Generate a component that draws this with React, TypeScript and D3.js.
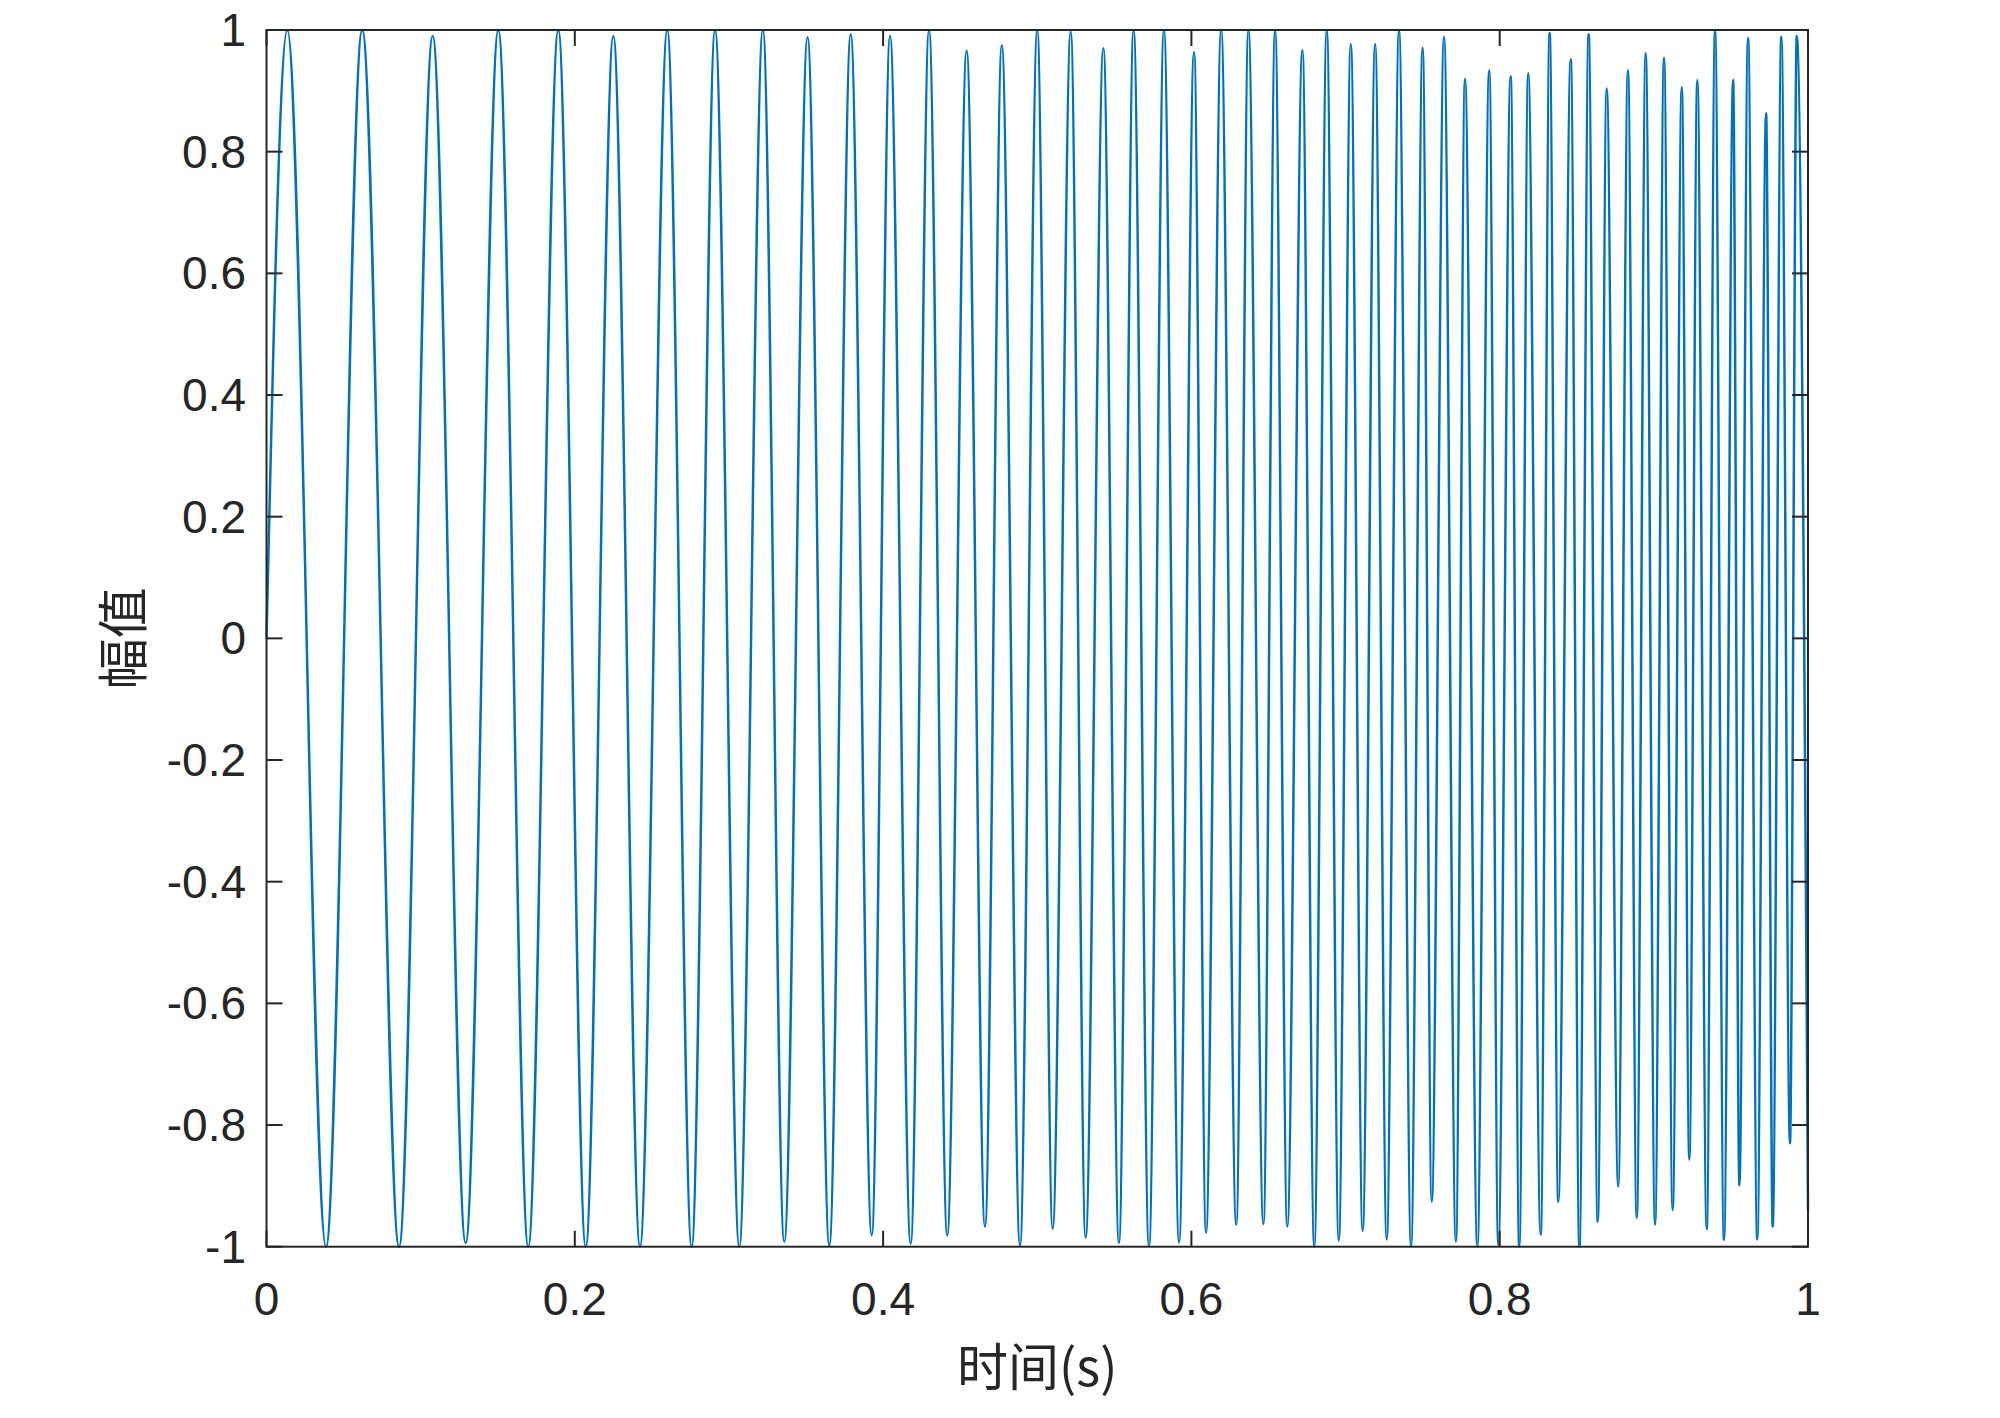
import React from "react";
import * as d3 from "d3";

// Start sample of the signal
const startT = 0;
const startV = 0;

// Local maxima (time in s, amplitude)
const peakT = [0.0135, 0.0621, 0.1078, 0.1504, 0.1893, 0.2250, 0.2600, 0.2910, 0.3220, 0.3510,
  0.3790, 0.4045, 0.4298, 0.4542, 0.4770, 0.5000, 0.5217, 0.5429, 0.5625, 0.5822,
  0.6017, 0.6193, 0.6370, 0.6543, 0.6720, 0.6878, 0.7034, 0.7192, 0.7347, 0.7500,
  0.7639, 0.7775, 0.7932, 0.8071, 0.8185, 0.8324, 0.8461, 0.8577, 0.8694, 0.8832,
  0.8947, 0.9066, 0.9181, 0.9282, 0.9397, 0.9514, 0.9611, 0.9728, 0.9827, 0.9927];
const peakV = [1, 1, 0.99, 1, 1, 0.99, 1, 1, 1, 0.988,
  0.993, 0.99, 1, 0.966, 0.975, 1, 0.997, 0.97, 1, 1,
  0.964, 1, 1, 1, 0.967, 1, 0.977, 0.977, 1, 0.971,
  0.989, 0.92, 0.934, 0.924, 0.929, 0.995, 0.952, 0.993, 0.904, 0.934,
  0.962, 0.955, 0.906, 0.918, 0.997, 0.918, 0.987, 0.863, 0.989, 0.99];

// Local minima
const troughT = [0.0386, 0.0860, 0.1292, 0.1698, 0.2071, 0.2423, 0.2758, 0.3067, 0.3359, 0.3651,
  0.3926, 0.4179, 0.4416, 0.4661, 0.4888, 0.5100, 0.5314, 0.5530, 0.5725, 0.5920,
  0.6095, 0.6291, 0.6467, 0.6622, 0.6797, 0.6956, 0.7111, 0.7267, 0.7425, 0.7559,
  0.7716, 0.7855, 0.7991, 0.8127, 0.8266, 0.8380, 0.8517, 0.8636, 0.8769, 0.8889,
  0.9008, 0.9122, 0.9230, 0.9343, 0.9455, 0.9555, 0.9671, 0.9771, 0.9883, 1.0];
const troughV = [-1, -1, -0.994, -1, -1, -1, -1, -1, -0.992, -0.998,
  -0.981, -0.995, -0.981, -0.967, -0.998, -0.970, -0.985, -0.994, -1, -0.993,
  -0.977, -0.964, -0.963, -0.967, -1, -0.990, -0.974, -0.988, -1, -0.926,
  -0.992, -1, -0.997, -1, -0.980, -0.926, -1, -0.959, -0.901, -0.953,
  -0.964, -0.940, -0.857, -0.971, -0.989, -0.899, -0.988, -0.967, -0.830, -0.940];

const xTicks = [0, 0.2, 0.4, 0.6, 0.8, 1];
const yTicks = [-1, -0.8, -0.6, -0.4, -0.2, 0, 0.2, 0.4, 0.6, 0.8, 1];
const xLabel = "时间(s)";
const yLabel = "幅值";

const W = 2000;
const H = 1418;
const left = 266.5;
const right = 1808;
const top = 30;
const bottom = 1246.7;

export default function App() {
  const x = d3.scaleLinear().domain([0, 1]).range([left, right]);
  const y = d3.scaleLinear().domain([-1, 1]).range([bottom, top]);

  const pts: [number, number][] = [[startT, startV]];
  peakT.forEach((t, i) => pts.push([t, peakV[i]]));
  troughT.forEach((t, i) => pts.push([t, troughV[i]]));
  pts.sort((a, b) => a[0] - b[0]);

  const line = d3
    .line<[number, number]>()
    .x((d) => x(d[0]))
    .y((d) => y(d[1]))
    .curve(d3.curveMonotoneX);

  const axisColor = "#262626";
  const tickLen = 16;
  const fontNum = "'Liberation Sans', Arial, Helvetica, sans-serif";
  const fontCJK = "'Noto Sans CJK SC', 'Liberation Sans', sans-serif";
  const fmt = (v: number) => (v === 0 ? "0" : String(v));

  return (
    <svg
      width={W}
      height={H}
      style={{ position: "absolute", left: 0, top: 0, background: "#fff" }}
    >
      <rect x={0} y={0} width={W} height={H} fill="#fff" />
      <path d={line(pts) || ""} fill="none" stroke="#0072BD" strokeWidth={2.5} strokeLinejoin="round" />
      {/* frame */}
      <rect x={left} y={top} width={right - left} height={bottom - top} fill="none" stroke={axisColor} strokeWidth={2} />
      {/* x ticks */}
      {xTicks.map((t) => (
        <g key={"x" + t}>
          <line x1={x(t)} x2={x(t)} y1={bottom} y2={bottom - tickLen} stroke={axisColor} strokeWidth={2} />
          <line x1={x(t)} x2={x(t)} y1={top} y2={top + tickLen} stroke={axisColor} strokeWidth={2} />
          <text x={x(t)} y={1315} textAnchor="middle" fontFamily={fontNum} fontSize={46} fill="#262626">
            {fmt(t)}
          </text>
        </g>
      ))}
      {/* y ticks */}
      {yTicks.map((t) => (
        <g key={"y" + t}>
          <line x1={left} x2={left + tickLen} y1={y(t)} y2={y(t)} stroke={axisColor} strokeWidth={2} />
          <line x1={right} x2={right - tickLen} y1={y(t)} y2={y(t)} stroke={axisColor} strokeWidth={2} />
          <text x={246} y={y(t) + 16} textAnchor="end" fontFamily={fontNum} fontSize={46} fill="#262626">
            {fmt(t)}
          </text>
        </g>
      ))}
      <text x={(left + right) / 2} y={1386} textAnchor="middle" fontFamily={fontCJK} fontSize={51} fill="#262626">
        {xLabel}
      </text>
      <text
        transform={`translate(142, ${(top + bottom) / 2}) rotate(-90)`}
        textAnchor="middle"
        fontFamily={fontCJK}
        fontSize={51}
        fill="#262626"
      >
        {yLabel}
      </text>
    </svg>
  );
}
